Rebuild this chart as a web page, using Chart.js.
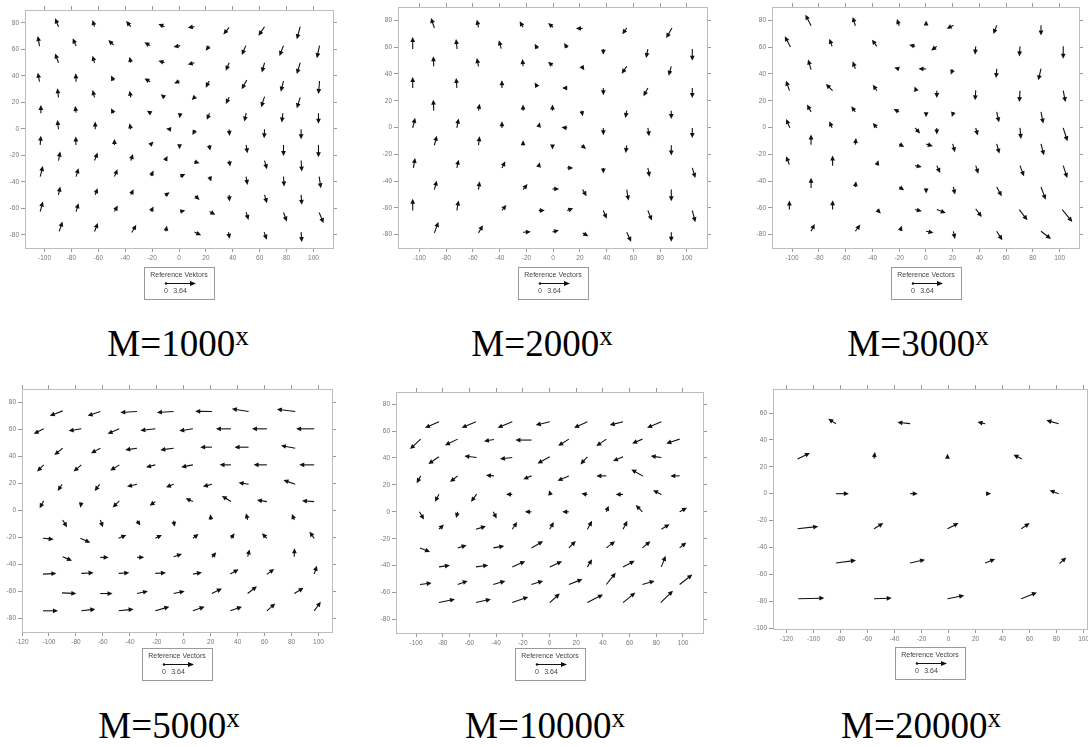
<!DOCTYPE html>
<html>
<head>
<meta charset="utf-8">
<script src="https://cdn.jsdelivr.net/npm/chart.js@4.4.1/dist/chart.umd.min.js"></script>
<style>
  body { margin: 0; width: 1088px; height: 747px; overflow: hidden; background: #fff; position: relative; }
  .panel { position: absolute; }
  .cap { position: absolute; width: 260px; text-align: center; white-space: nowrap;
         font-family: "Liberation Serif", "Times New Roman", serif; font-size: 37px; line-height: 37px; color: #000; }
  .cap span { font-size: 27px; position: relative; top: -11px; }
</style>
</head>
<body>
<script>
// tick labels
const xTicks100 = [-100, -80, -60, -40, -20, 0, 20, 40, 60, 80, 100];
const xTicks120 = [-120, -100, -80, -60, -40, -20, 0, 20, 40, 60, 80, 100];
const yTicks80 = [-80, -60, -40, -20, 0, 20, 40, 60, 80];
const yTicks100 = [-100, -80, -60, -40, -20, 0, 20, 40, 60];

// M=1000^x : arrow tails (x, y) and arrow components (u, v) in axis units
const p1X = [-89.6,-62.8,-35.8,-10.8,11.5,37.3,63.6,90.1,
  -103.7,-76.5,-48.7,-21.4,0.9,22.4,49.7,77.7,104.5,
  -89.6,-62.8,-35.8,-10.8,11.5,37.3,63.6,90.1,
  -103.7,-76.5,-48.7,-21.4,0.4,22.4,50.4,77.7,104.5,
  -89.6,-62.8,-35.8,-10.8,11.5,37.3,63.6,90.1,
  -102.7,-76.5,-48.7,-20.9,0.9,22.7,49.9,77.2,103.7,
  -89.6,-62.3,-35.8,-6.1,12,37.3,63.6,90.8,
  -103.2,-76.7,-48,-21.4,0.4,22.4,49.9,77.7,103.7,
  -89.6,-62.8,-35.8,-10.3,11.5,37.3,63.6,90.8,
  -103.2,-76.5,-48,-20.9,0.9,22.7,49.9,77.7,104.2,
  -89.6,-62.3,-35.8,-10.3,12,37.3,63.6,90.8,
  -103.2,-76.5,-48,-20.9,0.9,22.7,49.9,77.7,104.2,
  -89.1,-62.8,-35.1,-9.8,11.5,36.8,63.3,90.8];
const p1Y = [77,77,77,77,77,76.5,77,77,
  62.4,62.4,63.2,62.7,62.7,62.4,62.7,62.7,62.7,
  49.8,49.8,49.8,49.8,49.8,49.8,49.8,49.8,
  35.5,35.5,36.3,35.5,36,36,36.8,36,36,
  23.7,23.7,23.7,23.7,23.7,23.7,24.2,23.7,
  11.7,12.2,11.7,11.7,11.7,11.7,11.7,11.7,11.7,
  -0.4,-0.4,-0.4,-0.4,-0.9,-0.4,-0.4,-0.4,
  -12.2,-12.2,-12.2,-12.2,-13,-12.2,-12.2,-12.2,-12.2,
  -24,-24,-24,-24,-24.8,-24,-24,-24,
  -36.1,-36.1,-36.1,-35.6,-36.1,-36.1,-36.1,-36.1,-36.1,
  -49.9,-49.9,-49.9,-50.4,-50.7,-49.9,-49.9,-49.9,
  -62.5,-62.5,-62.5,-62.5,-62.5,-62.5,-63,-63.2,-63.2,
  -77.5,-77.5,-78.3,-77.5,-78,-78,-78,-78];
const p1U = [-2.5,-1.5,-3.5,-4.5,-5,-4.3,-4.5,-2.5,
  -1.3,-2.5,-3.8,-4.3,-5,-2.5,-3,-3,-2,
  -2.5,-1.5,-1,-4.5,-5,-2.5,-2,-2.5,
  -1.3,-0.3,-1.8,-4.3,-4,-2.5,-3.8,-2,-0.8,
  -0.8,-1.5,-1,-2.8,-2,-2.5,-2.5,-2.5,
  0,-0.8,-1.8,-3,-0.5,-2,-1.3,-0.8,0,
  -0.8,0,-1,-3.5,-2,0.3,-0.3,0,
  0.5,0,0,2.5,0,0.8,1,0,0,
  1.3,2.3,1.5,1.8,3.8,0.8,1.8,0.5,
  2,1.8,2.3,2,3.8,1.3,1,0.5,1.3,
  1.3,1.8,2,3.3,3.3,0.3,1.8,0.5,
  2,1.8,2.5,2,3.8,4.3,1.8,2.5,3.3,
  2.5,2.5,3.3,0.8,5,0.8,2,0.5];
const p1V = [6.3,5,4.3,2,-0.8,-5.3,-6.8,-9.5,
  7.5,5.8,3.8,2.5,-1,-3.5,-7,-7.8,-9.5,
  7,5.3,4.5,1.5,-1.3,-6,-7.3,-8.5,
  6.8,6.3,3.8,2.5,-1.8,-5,-7,-8,-9.8,
  6.8,5.5,5,2.3,-2,-5,-8,-8.3,
  6.3,5,3.8,1.8,-3.8,-5,-6.3,-7,-8,
  7,5.8,4.5,0.3,-3.8,-5,-6.8,-7.5,
  7,6.3,4.5,2.5,-2.5,-4.3,-6.3,-8.3,-9.3,
  6.8,6,5,3.5,-1.3,-4.5,-6.5,-8.3,
  8,6.3,5.5,4,2,-3.8,-6.3,-7.5,-8.8,
  6.3,5,4.3,2.5,-3,-5,-6.3,-7.5,
  7.5,6.3,4.5,3.8,0.8,-2.5,-5.8,-6.8,-8,
  7.5,6.3,5.8,4.3,-2.3,-5,-5.8,-7.5];

// M=2000^x
const p2X = [-88.8,-55.8,-22.5,0,22,55,88.8,
  -105,-71.8,-38.8,-11.8,10.5,37.5,70.8,104,
  -89.3,-55.8,-22.5,-0.5,21.3,55,88.3,
  -105,-72,-38.3,-11.8,10.5,37.5,70.8,104,
  -89.3,-55.8,-22.5,-0.5,21.3,55,88.3,
  -105,-72,-38.3,-10.8,10.5,37.5,70.8,104,
  -88.8,-55.8,-22.5,-0.5,21.3,55,88.3,
  -104.5,-72,-38.3,-10.8,10.5,37.5,70.8,104,
  -88.8,-55.8,-22.5,-0.5,22,55,88.3,
  -105,-72,-38.3,-10.8,10.5,37.5,70.8,104,
  -88.8,-55.8,-22.5,-0.5,22,55,88.3];
const p2Y = [74.3,74.8,74.8,74.8,74,74.3,74.3,
  58.6,58.6,58.9,58.9,59.4,58.6,58.6,58.6,
  45.7,45.7,45.7,46.2,45.7,45.7,45.7,
  29.5,29.5,29.5,30.2,29.5,29.5,29.5,29.5,
  12.6,12.6,12.6,12.6,12.6,12.6,12.6,
  -0.3,-0.3,-0.3,0.4,-0.3,-0.3,-0.3,-0.3,
  -13.3,-13.3,-13.3,-13.3,-13.3,-13.3,-13.3,
  -30.2,-30.2,-30.2,-29,-30.2,-30.2,-30.2,-30.2,
  -46.4,-46.4,-46.4,-45.9,-46.4,-46.4,-46.4,
  -62,-62,-62,-62,-62,-62,-62,-62,
  -78.7,-78.7,-78.2,-78,-78.7,-78.2,-78.2];
const p2U = [-2.5,-1.3,-2.5,-3.8,-5,-3.3,-4.3,
  0,-0.8,-1.8,-2,-2.3,0,-1.3,0,
  -0.3,-1.3,-0.5,-3.3,2,-3.8,-2,
  0,-0.5,0,-2,-3.8,0,-3.3,0,
  -0.3,0.8,0,0,0.8,-1,0,
  1.8,1.3,0,0.8,-4.3,0,1,0,
  1.8,0.8,0,0,3.3,-0.8,0,
  1.3,1.3,2.5,0.8,4.5,0,1.3,2.3,
  1.8,0.8,3.3,5,3,1.3,0,
  0,1.3,3.3,4.5,4.5,2.5,3,2.3,
  3,3.3,5.8,4.8,4.3,3.3,0];
const p2V = [7.5,5.7,4.5,3.2,0,-4.7,-7.5,
  9,7.5,6.2,3.7,3.7,-4.2,-6.7,-8.7,
  7.5,6.2,5.5,3,-3,-5.5,-7,
  8.2,7.5,5.7,3.5,0,-5.5,-6.2,-7.5,
  8.2,5.2,4.5,4.5,-4.2,-5.5,-6.2,
  7.5,7,5,3.5,0.5,-5.5,-6.2,-7.5,
  7.2,6.7,3.7,-3.2,-2.7,-5.7,-7.7,
  7.5,6.2,5,3,0,-4.2,-6.7,-7.5,
  6.7,6.2,4.2,0,-5,-8.2,-8.7,
  8.7,7.5,4.2,0,1.7,-6.2,-7.5,-8.7,
  8.2,5.7,0.3,1.2,-2.5,-7.2,-7.2];

// M=3000^x
const p3X = [-85.8,-52.7,-19.9,0.2,20.6,53,86.1,
  -101.2,-70.1,-36.6,-8,8.2,37.3,70.4,102.7,
  -85.8,-52.7,-19.9,0.2,20.1,53,86.1,
  -102,-69.7,-36.6,-7.2,8.2,37.3,70.4,102.7,
  -85.8,-52.7,-19.9,0.2,20.6,53,86.1,
  -101.7,-70.1,-36.6,-8,8.2,37.3,70.4,102.7,
  -85.8,-52.7,-19.9,0.2,20.1,53,86.1,
  -102,-69.7,-36.6,-8,8.2,37.3,70.4,102.7,
  -85.8,-52.7,-19.9,0.2,20.6,53,86.1,
  -102,-69.7,-36.6,-8,8.2,37.3,69.9,102,
  -85.8,-52.7,-19.2,0.2,20.6,53,86.1];
const p3Y = [76,76,76,76.8,76.3,76.3,76.3,
  60.1,60.6,60.6,60.6,60.6,60.6,60.6,60.6,
  43.2,43.9,43.7,43.7,43.2,43.9,43.9,
  27.5,27.5,27.5,27.5,27.5,27.8,27.5,27.5,
  11.6,11.6,11.6,10.8,11.3,11.6,11.6,
  -0.3,-0.3,-0.3,-0.3,-0.3,-0.3,-0.3,-0.3,
  -12.8,-12.8,-12.3,-12.3,-12.3,-12.3,-12.3,
  -27.7,-28.5,-28.2,-28.5,-28.5,-28.5,-28.5,-28.5,
  -45.1,-44.4,-44.4,-45.6,-44.4,-44.4,-44.4,
  -61.3,-61.3,-61.3,-61.3,-61.3,-60.8,-61.3,-61.3,
  -77.5,-77.5,-77,-77.5,-77.5,-77.5,-77.5];
const p3U = [-4.2,-2,-1.7,0,-5,-2.5,0,
  -4.2,-2,-3.7,-4.5,-4.2,-0.5,-0.5,0,
  -2.2,-2,-3.7,-5.7,-1.5,-0.5,-2,
  -2.5,-5,-3,-1.2,0,-0.5,-0.5,1.7,
  -3,-3,-4.2,0,-1.2,1.7,1.7,
  -2.7,-2,-3,3.7,0,1.5,0.7,3.2,
  0,0.5,3.7,5,1.7,2,2.2,
  -2.5,0,1.2,5,2.5,2,3,3,
  0,0.5,3.7,0,1.2,3.7,3.5,
  0,0,3,5,6.7,4.5,6,7.5,
  2.7,3.7,1.2,5.5,1.2,4.2,7.5];
const p3V = [8.2,6.5,5,3.2,-2.5,-6.5,-7.5,
  8,5.7,5,1.2,-3,-6.2,-7.5,-9.2,
  7.5,5.5,1.2,0.2,-3.7,-7,-8.7,
  7.5,5,4.5,3.2,-5.5,-7.5,-8.5,-8.5,
  5.5,4.2,2.2,-3.2,-3.5,-7.7,-8.7,
  6.7,5,3.7,-4.2,-5,-5.7,-8.2,-10,
  7.5,5,-2.2,-1.7,-6.2,-7.2,-8.5,
  6.2,7.5,3.7,-1,-5.5,-6,-8,-9.2,
  7.5,4.2,-2.5,-3.7,-5.7,-7,-9.5,
  6.7,7,-3,-1.2,-2.5,-6,-8,-9.2,
  5.5,5,3.7,-1.2,-5.7,-6.7,-5.7];

// M=5000^x
const p4X = [-89.8,-61.9,-34.7,-7.5,20.9,48.1,82.7,
  -103.9,-76,-47.8,-21.1,6.8,35,61.7,96.8,
  -89.8,-61.9,-34.7,-7.5,20.9,48.1,82.7,
  -103.9,-76,-47.8,-21.1,6.8,35,61.7,96.8,
  -90.3,-62.4,-34.7,-7.5,20.9,48.1,82.7,
  -103.9,-76,-47.8,-21.1,6.8,35,61.7,96.8,
  -89.8,-61.9,-34.7,-7.5,20.2,47.4,82,
  -104.4,-76.7,-48.3,-21.1,6.8,35,61.7,96.8,
  -89.8,-61.9,-34.7,-7.5,20.9,47.4,82,
  -104.4,-76,-48.3,-21.1,6.8,34.5,61.7,96.8,
  -90.3,-61.9,-34.7,-7.5,20.9,47.4,82,
  -104.4,-76,-48.3,-21.1,6.8,34.5,61.7,96.8];
const p4Y = [73.8,73.3,73.3,73.3,73.3,73.3,73.3,
  60.5,60.5,60.5,60.5,60.5,60.5,60.5,60.5,
  46.1,46.1,46.1,46.1,46.9,46.9,46.1,
  33.8,33.8,33.8,33.8,33.8,33.8,33.8,33.8,
  19.4,19.4,19.4,19.4,19.4,19.4,19.4,
  7.3,6.1,7.1,6.6,6.6,6.6,6.6,6.6,
  -7,-7,-7.5,-7.5,-7,-7,-7,
  -20.6,-20.6,-20.6,-20.6,-20.6,-20.6,-20.6,-20.6,
  -34.2,-34.7,-34.7,-34.2,-34.7,-34.2,-34.2,
  -47.1,-46.6,-46.6,-46.6,-47.1,-47.1,-47.3,-47.1,
  -61,-61.5,-61.5,-61.5,-61.5,-61.5,-61.5,
  -74.3,-74.3,-74.3,-74.3,-74.3,-74.3,-74.3,-74.3];
const p4U = [-9.6,-9.4,-12.4,-12.4,-12.4,-12.4,-13.6,
  -7.4,-9.4,-8.7,-11.1,-10.1,-11.1,-11.1,-13.4,
  -6.2,-6.9,-8.7,-9.9,-8.7,-10.4,-10.6,
  -4.9,-5.7,-6.7,-6.9,-8.7,-8.4,-9.9,-11.1,
  -3.2,-3.7,-7.4,-5.7,-6.7,-7.4,-8.7,
  -3,-0.7,-4.9,-4.2,-5.4,-6.7,-7.4,-9.1,
  3.2,2,2.5,0.7,-0.5,-1.2,-1.7,
  7.9,7.4,5.7,4.9,4.2,2.7,-3.7,-3.5,
  6.9,6.2,5.4,6.2,3.2,1.5,0.2,
  9.9,9.1,7.9,7.9,6.7,6.2,5.4,2,
  10.6,9.1,8.2,8.2,7.4,6.9,6.9,
  11.1,10.4,11.1,10.4,8.7,8.7,6.2,4.9];
const p4V = [-3.7,-3.2,-0.7,-0.7,0.2,2,1.7,
  -3.7,-1.5,-3.7,-1.2,-1.5,0,0,0,
  -4.9,-3.7,-1.2,-1.2,0,0,2,
  -4.9,-4.9,-4.2,-1.7,-1.7,0,0,0,
  -4.9,-4.9,-1.7,-2.2,-1.7,1.2,3.2,
  -5.7,-4,-4.9,-3,2.5,4.2,1.2,0.7,
  -5.4,-5.4,-3.7,-4.5,4.2,4.9,4.5,
  -0.7,-3.2,2.5,2.5,3.2,3.7,3.7,4.9,
  -3,-0.2,0,2,3.7,5.4,6.2,
  0.5,0.5,0.5,0.5,1.2,3.5,4,6.2,
  -0.5,0,1.7,1.7,3.7,5.4,4.2,
  0,1.2,1.2,3,3,3,5.4,6.7];

// M=10000^x
const p5X = [-82.8,-55.1,-27.9,0.2,28.4,55.1,83.8,
  -96.5,-68.8,-41.6,-13.5,14.5,42.6,69.6,97.5,
  -82.8,-54.6,-27.9,0.2,28.4,55.1,83.8,
  -96.5,-68.8,-41.6,-13.5,14.5,42.6,70,97.5,
  -82.8,-54.6,-27.9,0.7,28.4,55.1,83.8,
  -97.5,-68.8,-42.1,-13.5,14.5,42.6,69.6,97.5,
  -82.8,-55.1,-27.9,0.2,28.4,55.1,83.8,
  -97,-68.8,-42.1,-13.5,14.5,42.6,69.6,97.5,
  -82.8,-55.1,-27.9,0.2,28.4,55.1,83.8,
  -97,-68.8,-42.1,-13.5,14.5,42.6,69.6,97.5,
  -82.8,-55.1,-27.9,0.2,28.4,55.1,83.3];
const p5Y = [66.9,66.9,66.9,66.9,66.9,66.9,66.9,
  54,54,53.7,53.3,54,54,54,54,
  40.9,40.4,40.4,40.9,40.9,40.9,40.4,
  26.7,26.7,26.7,26.7,26.7,26.7,26.5,26.7,
  13.1,13.1,12.9,12.9,12.9,12.9,12.9,
  0,0,0,0,0,0,0,0,
  -12.9,-12.9,-12.9,-12.9,-12.9,-12.9,-12.9,
  -26.8,-26.8,-26.8,-26.8,-26.8,-26.8,-26.8,-26.8,
  -40.9,-40.9,-40.9,-40.9,-40.9,-40.9,-40.9,
  -54,-54,-54,-54,-54,-54,-54,-54,
  -67.4,-67.4,-67.4,-67.4,-67.4,-67.4,-67.4];
const p5U = [-10.5,-10.7,-11,-10.5,-10,-10,-10.7,
  -8,-9.5,-7.5,-12,-8,-7.5,-7.7,-10,
  -8,-9.2,-9.2,-9.2,-5.2,-7.5,-8,
  -3,-5.7,-6,-6.2,-8.5,-7.5,-8.7,-7,
  -3,-4.2,-4.7,-1,-4.5,-5.5,-6.2,
  3.5,-1.2,2.5,-5,-5,1.7,-5,5.5,
  3.7,7.5,3.7,3,3.5,3.2,6.2,
  7.5,6.7,8.2,8.7,5.2,6.5,6,5,
  8.2,9.2,9.7,9.2,3.5,8.7,3.2,
  8.7,7.5,9,8.7,10.2,7,9.2,9.5,
  12,11.2,12,7.5,11.7,9.2,9.2];
const p5V = [-4.5,-4.5,-4.5,-2.5,-4.5,-2.5,-4.5,
  -7.4,-4.5,-1.2,0,-5,-5.2,-3.2,-3.2,
  -5.4,1,-1.2,-5,-5.7,-3.2,1,
  -5.4,-4.5,0.5,-2.5,-3.7,0,5,0,
  -5.7,-5.7,0.2,3.2,0.7,0,3.2,
  -5.7,-4.5,-5,0,0,4.5,5,3,
  3.5,2.2,5.4,5.4,6.2,6.2,3.7,
  -3,2,1.5,5,5.2,5,5,4,
  1.2,1.2,4.2,4.2,5.7,4.5,8.2,
  1.2,2.7,2.7,2.7,4,8.7,2.7,7.4,
  2.5,2.5,4.2,6.7,6,7.4,8.7];

// M=20000^x
const p6X = [-83.4,-28.5,27.1,81.5,
  -111.8,-55.2,-0.8,54.3,
  -83.4,-28.5,27.8,81.5,
  -111.8,-55.2,-0.8,53.8,
  -83.4,-28.5,27.1,82.2,
  -111.3,-55.2,-0.8,53.8];
const p6Y = [52.1,52.1,52.1,52.1,
  25.8,26,26.5,25.8,
  0,0,0,0,
  -26.1,-26.1,-26.1,-26.1,
  -51.6,-51.6,-51.6,-52.1,
  -78.2,-78.2,-78.2,-78.2];
const p6U = [-5.7,-9.4,-5.7,-9.1,
  9.1,0.7,0,-6.2,
  9.6,5.7,3.7,-6.7,
  15.3,6.9,8.2,6.2,
  14.8,11.1,7.4,4.9,
  19.3,13.1,12.4,11.6];
const p6V = [3.7,1,1.2,2.5,
  4.5,5,3.2,3.2,
  0,0,0,2.5,
  1.7,4.2,4.2,4.2,
  2,2.5,3,4.7,
  0.5,0.5,2.5,4.7];

const captions = ['1000', '2000', '3000', '5000', '10000', '20000'];
const refLabel = '3.64';

// layout of each panel (plot frame in page pixels) and axis ranges
const panels = [
  { xs: p1X, ys: p1Y, us: p1U, vs: p1V, frame: [25, 10, 333, 248], xr: [-114.5, 114.5], yr: [-90, 89.6],
    xt: xTicks100, yt: yTicks80, gap: 19, title: 'Reference Vektors', cap: [178, 356] },
  { xs: p2X, ys: p2Y, us: p2U, vs: p2V, frame: [398, 7, 707, 248], xr: [-116, 115], yr: [-90, 90],
    xt: xTicks100, yt: yTicks80, gap: 19, title: 'Reference Vectors', cap: [542, 356] },
  { xs: p3X, ys: p3Y, us: p3U, vs: p3V, frame: [772, 7, 1079, 248], xr: [-115, 114.5], yr: [-90, 90],
    xt: xTicks100, yt: yTicks80, gap: 19, title: 'Reference Vectors', cap: [918, 356] },
  { xs: p4X, ys: p4Y, us: p4U, vs: p4V, frame: [22, 389, 332, 632], xr: [-120, 110], yr: [-90, 90],
    xt: xTicks120, yt: yTicks80, gap: 16, title: 'Reference Vectors', cap: [169, 738] },
  { xs: p5X, ys: p5Y, us: p5U, vs: p5V, frame: [396, 392, 703, 633], xr: [-115, 115], yr: [-90, 89],
    xt: xTicks100, yt: yTicks80, gap: 15, title: 'Reference Vectors', cap: [545, 738] },
  { xs: p6X, ys: p6Y, us: p6U, vs: p6V, frame: [773, 389, 1087, 629], xr: [-130, 102.5], yr: [-100.7, 77.9],
    xt: xTicks120, yt: yTicks100, gap: 18, title: 'Reference Vectors', cap: [921, 738] }
];

const LEFT = 26, RIGHT = 14, TOP = 8, BOTTOM = 60;

function drawArrow(ctx, x0, y0, x1, y1, hl, hw) {
  const a = Math.atan2(y1 - y0, x1 - x0);
  const c = Math.cos(a), s = Math.sin(a);
  const bx = x1 - hl * c, by = y1 - hl * s;
  ctx.beginPath();
  ctx.moveTo(x0, y0);
  ctx.lineTo(bx + c, by + s);
  ctx.stroke();
  ctx.beginPath();
  ctx.moveTo(x1, y1);
  ctx.lineTo(bx - hw * s, by + hw * c);
  ctx.lineTo(bx + hw * s, by - hw * c);
  ctx.closePath();
  ctx.fill();
}

const quiverPlugin = {
  id: 'quiver',
  afterDatasetsDraw(chart) {
    const { ctx } = chart;
    const x = chart.scales.x, y = chart.scales.y;
    ctx.save();
    ctx.strokeStyle = '#111';
    ctx.fillStyle = '#111';
    ctx.lineWidth = 1.1;
    chart.data.datasets[0].data.forEach(p => {
      drawArrow(ctx,
        x.getPixelForValue(p.x), y.getPixelForValue(p.y),
        x.getPixelForValue(p.x + p.u), y.getPixelForValue(p.y + p.v), 5, 2.4);
    });
    ctx.restore();
  }
};

// the "Reference Vectors" box under each plot
const refBoxPlugin = {
  id: 'refbox',
  afterDraw(chart, args, opts) {
    const { ctx, chartArea } = chart;
    const cx = Math.round((chartArea.left + chartArea.right) / 2);
    const top = Math.round(chartArea.bottom + opts.gap);
    ctx.save();
    ctx.strokeStyle = '#9a9a9a';
    ctx.lineWidth = 1;
    ctx.strokeRect(cx - 35 + 0.5, top + 0.5, 70, 32);
    ctx.fillStyle = '#444';
    ctx.font = '7px "Liberation Sans", Arial, sans-serif';
    ctx.textAlign = 'center';
    ctx.textBaseline = 'middle';
    ctx.fillText(opts.title, cx, top + 8);
    ctx.fillText('0', cx - 13, top + 24);
    ctx.fillText(refLabel, cx + 1, top + 24);
    ctx.strokeStyle = '#111';
    ctx.fillStyle = '#111';
    ctx.beginPath();
    ctx.arc(cx - 13, top + 16.5, 1.2, 0, Math.PI * 2);
    ctx.fill();
    drawArrow(ctx, cx - 13, top + 16.5, cx + 17, top + 16.5, 6, 2.6);
    ctx.restore();
  }
};

function axis(pos, range, ticks, show, size) {
  return {
    type: 'linear',
    position: pos,
    min: range[0],
    max: range[1],
    afterBuildTicks: s => { s.ticks = ticks.map(v => ({ value: v })); },
    afterFit: s => {
      if (pos === 'left' || pos === 'right') s.width = size; else s.height = size;
    },
    grid: { drawOnChartArea: false, drawTicks: true, tickLength: 4, color: '#9a9a9a', lineWidth: 1 },
    border: { display: true, color: '#bdbdbd', width: 1 },
    ticks: { display: show, color: '#777', padding: 2, autoSkip: false, maxRotation: 0,
             font: { size: 6.5, family: '"Liberation Sans", Arial, sans-serif' } }
  };
}

panels.forEach((p, i) => {
  const [l, t, r, b] = p.frame;
  const div = document.createElement('div');
  div.className = 'panel';
  div.style.left = (l - LEFT) + 'px';
  div.style.top = (t - TOP) + 'px';
  div.style.width = (r - l + LEFT + RIGHT) + 'px';
  div.style.height = (b - t + TOP + BOTTOM) + 'px';
  const canvas = document.createElement('canvas');
  div.appendChild(canvas);
  document.body.appendChild(div);

  new Chart(canvas, {
    type: 'scatter',
    data: {
      datasets: [{
        data: p.xs.map((xv, k) => ({ x: xv, y: p.ys[k], u: p.us[k], v: p.vs[k] })),
        pointRadius: 0,
        showLine: false
      }]
    },
    options: {
      responsive: true,
      maintainAspectRatio: false,
      animation: false,
      layout: { padding: 0 },
      scales: {
        x: axis('bottom', p.xr, p.xt, true, BOTTOM),
        x2: axis('top', p.xr, p.xt, false, TOP),
        y: axis('left', p.yr, p.yt, true, LEFT),
        y2: axis('right', p.yr, p.yt, false, RIGHT)
      },
      plugins: {
        legend: { display: false },
        tooltip: { enabled: false },
        refbox: { gap: p.gap, title: p.title }
      }
    },
    plugins: [quiverPlugin, refBoxPlugin]
  });

  const cap = document.createElement('div');
  cap.className = 'cap';
  cap.style.left = (p.cap[0] - 130) + 'px';
  cap.style.top = (p.cap[1] - 31) + 'px';
  cap.innerHTML = 'M=' + captions[i] + '<span>x</span>';
  document.body.appendChild(cap);
});
</script>
</body>
</html>
